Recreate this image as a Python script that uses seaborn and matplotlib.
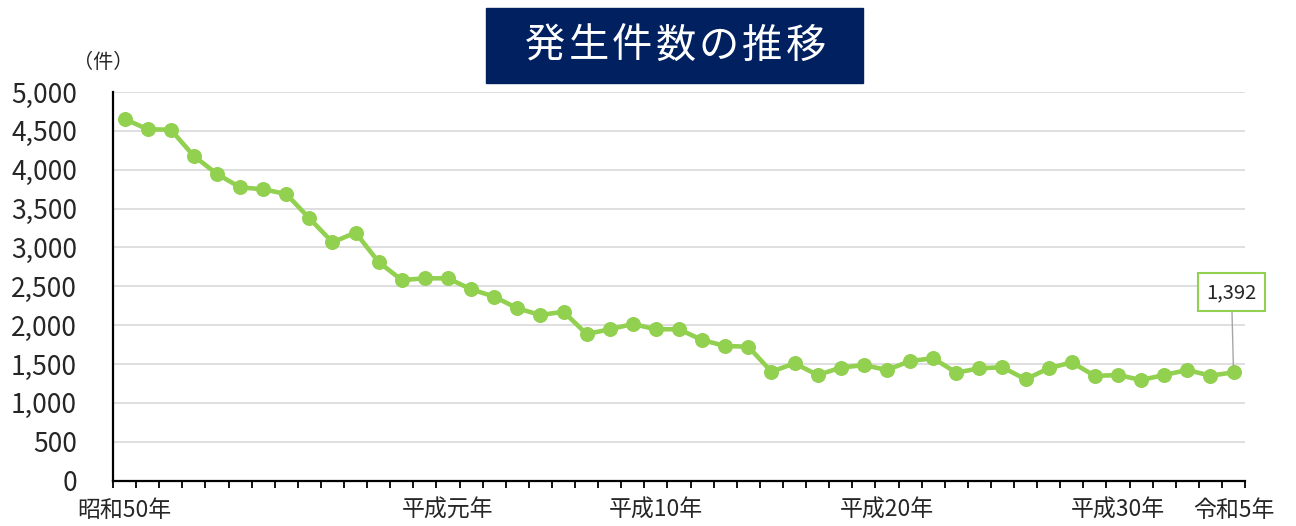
import numpy as np
import pandas as pd
import seaborn as sns
import matplotlib.pyplot as plt
from matplotlib.ticker import FuncFormatter, FixedLocator

# データ（昭和50年〜令和5年）
years = list(range(1975, 2024))
counts = [4653, 4520, 4515, 4176, 3945, 3773, 3748, 3687, 3374, 3066,
          3190, 2810, 2580, 2602, 2602, 2461, 2366, 2216, 2130, 2172,
          1885, 1946, 2014, 1946, 1946, 1808, 1731, 1722, 1400, 1508,
          1358, 1452, 1486, 1422, 1538, 1573, 1388, 1444, 1457, 1302,
          1444, 1521, 1345, 1358, 1293, 1358, 1422, 1349, 1392]
label_years = [1975, 1989, 1998, 2008, 2018, 2023]
label_texts = ['昭和50年', '平成元年', '平成10年', '平成20年', '平成30年', '令和5年']
title = '発生件数の推移'

df = pd.DataFrame({'year': years, 'count': counts})

sns.set_style('white')
plt.rcParams['font.family'] = ['Noto Sans CJK JP', 'DejaVu Sans']

green = '#92d050'
fig = plt.figure(figsize=(12.96, 5.26), dpi=100)
ax = fig.add_axes([0.0872, 0.0865, 0.8735, 0.7386])

sns.lineplot(data=df, x='year', y='count', ax=ax, color=green, linewidth=3.3,
             marker='o', markersize=10, markeredgecolor=green, zorder=3)

ax.set_xlim(years[0] - 0.5, years[-1] + 0.5)
ax.set_ylim(0, 5000)
ax.set_yticks(np.arange(0, 5001, 500))
ax.yaxis.set_major_formatter(FuncFormatter(lambda v, p: f'{int(v):,}'))
ax.grid(axis='y', color='#d9d9d9', linewidth=1.2)
ax.set_axisbelow(True)

# 区切り目盛り（ラベルなし）とラベル（目盛りなし）
ax.xaxis.set_major_locator(FixedLocator(np.arange(years[0] - 0.5, years[-1] + 1, 1)))
ax.xaxis.set_major_formatter(FuncFormatter(lambda v, p: ''))
ax.xaxis.set_minor_locator(FixedLocator(label_years))
ax.set_xticklabels(label_texts, minor=True)
ax.tick_params(axis='x', which='major', direction='out', length=5, width=1.3,
               color='black', bottom=True)
ax.tick_params(axis='x', which='minor', length=0, pad=13, labelsize=16.5)
ax.tick_params(axis='y', length=0, pad=26, labelsize=19)

for s in ['top', 'right']:
    ax.spines[s].set_visible(False)
for s in ['left', 'bottom']:
    ax.spines[s].set_color('black')
    ax.spines[s].set_linewidth(1.6)

ax.set_xlabel('')
ax.set_ylabel('')

# 単位
fig.text(103 / 1296, 1 - 63 / 526, '（件）', fontsize=14.5, ha='center', va='center')

# 最終値のラベル
ax.annotate(f'{counts[-1]:,}', xy=(years[-1], counts[-1]),
            xytext=(-2, 80), textcoords='offset pixels',
            ha='center', va='center', fontsize=14.5,
            bbox=dict(boxstyle='square,pad=0.42', fc='white', ec=green, lw=1.5),
            arrowprops=dict(arrowstyle='-', color='#a6a6a6', lw=1,
                            shrinkA=0, shrinkB=4))

# タイトル
fig.patches.append(plt.Rectangle((486 / 1296, 1 - 83 / 526), 377 / 1296, 75 / 526,
                                 transform=fig.transFigure, color='#002060'))
for i, ch in enumerate(title):
    fig.text((545 + i * 43.5) / 1296, 1 - 46 / 526, ch, color='white',
             fontsize=29, ha='center', va='center')

plt.savefig('out.png', dpi=100)
